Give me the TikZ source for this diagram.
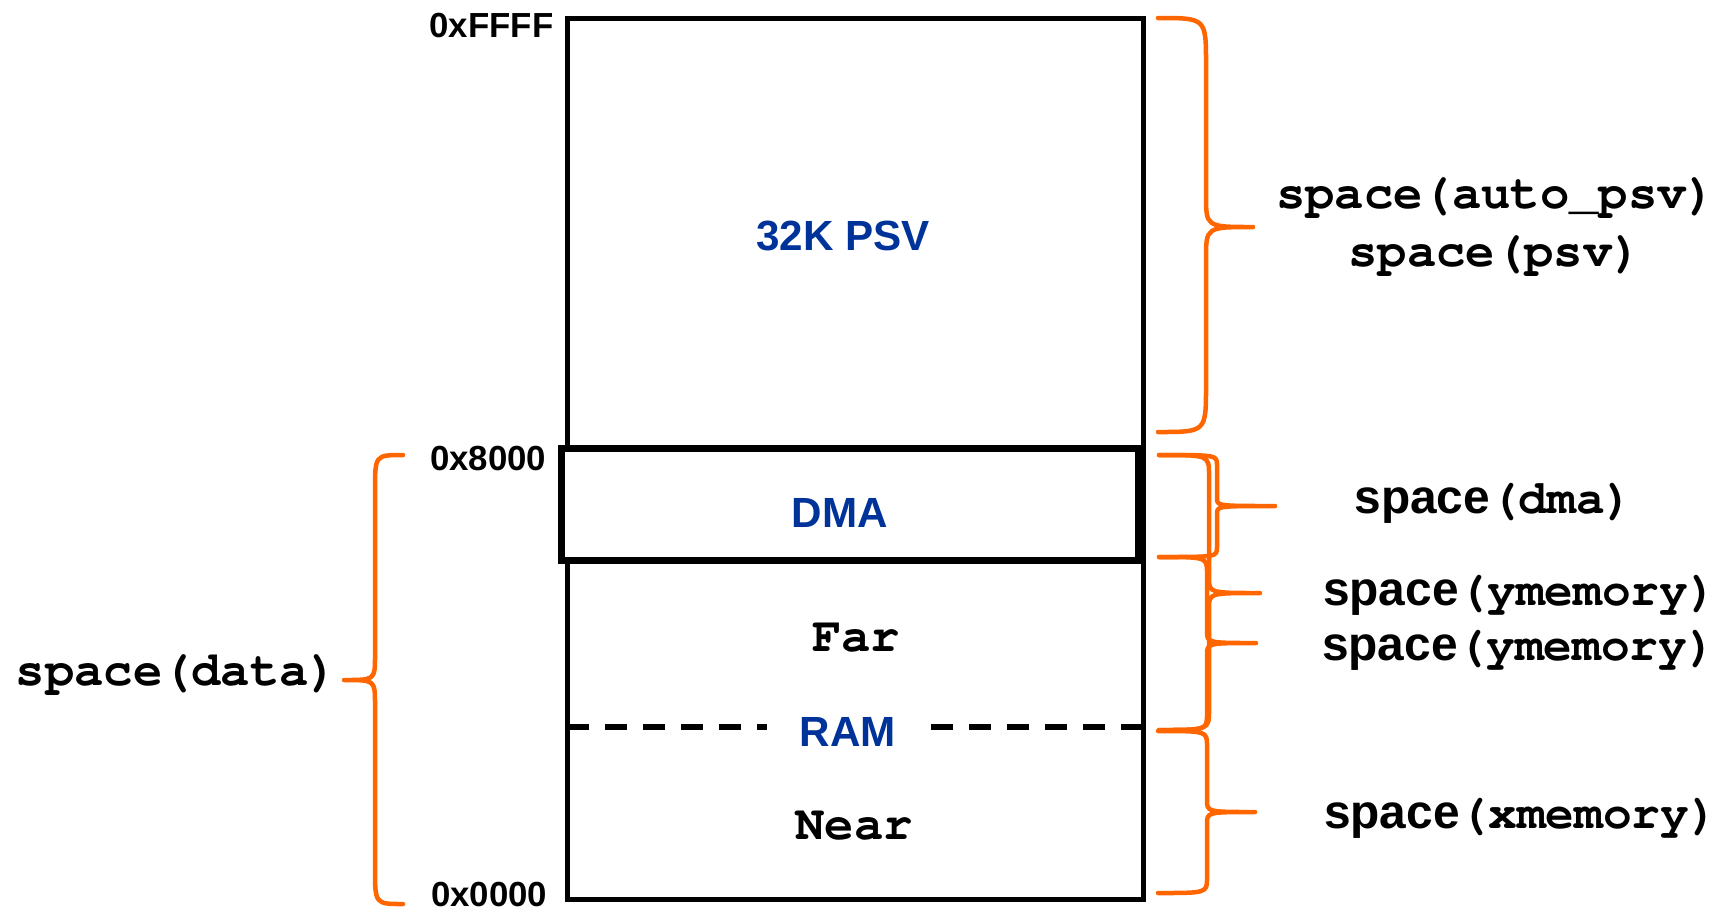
\documentclass[tikz,border=0pt]{standalone}
\usepackage{fontspec}
\usepackage{xcolor}
\usepackage{tikz}
\usetikzlibrary{positioning,calc}

\newfontfamily\arialf{Liberation Sans}
\newfontfamily\courf{texgyrecursor}[Extension=.otf, UprightFont=*-regular, BoldFont=*-bold]

\definecolor{memblue}{RGB}{0,51,153}
\definecolor{brcorange}{RGB}{255,102,0}

% brace: end x, spine x, tip x, top y, tip y, bottom y, end radius, tip radius
\newcommand{\membrace}[8]{%
  \draw[brc] (#1,#4) .. controls (#2,#4) .. (#2,#4+#7) -- (#2,#5-#8)
    .. controls (#2,#5) .. (#3,#5) .. controls (#2,#5) .. (#2,#5+#8)
    -- (#2,#6-#7) .. controls (#2,#6) .. (#1,#6);}

\begin{document}
\begin{tikzpicture}[
    x=0.01cm, y=-0.01cm,
    frame/.style={draw=black, line width=0.05cm},
    dmaframe/.style={draw=black, fill=white, line width=0.07cm},
    ramline/.style={line width=0.055cm, dash pattern=on 0.22cm off 0.16cm},
    brc/.style={draw=brcorange, line width=0.045cm, line cap=round, line join=round},
    hexlbl/.style={font=\arialf\bfseries\fontsize{9.9}{11}\selectfont, anchor=east, inner sep=0pt},
    regionlbl/.style={font=\arialf\bfseries\fontsize{12}{14}\selectfont, text=memblue, inner sep=0pt},
    courlbl/.style={font=\courf\bfseries\fontsize{13.9}{15}\selectfont, anchor=base, inner sep=0pt},
    spacelbl/.style={courlbl, font=\courf\bfseries\fontsize{13.6}{15}\selectfont}
]
    \useasboundingbox (0,0) rectangle (1719,911);

    % memory map
    \draw[frame] (567,18) rectangle (1143,899);
    \draw[dmaframe] (561,448) rectangle (1138,560);

    % regions
    \node[regionlbl] (psv) at (843,236) {32K PSV};
    \node[regionlbl] (dma) at (840,513) {DMA};
    \node[regionlbl] (ram) at (848,732) {RAM};
    \node[courlbl] (far) at (856,651) {Far};
    \node[courlbl] (near) at (854,839) {Near};

    % RAM split
    \coordinate (ramL) at (567,727);
    \coordinate (ramR) at (1143,727);
    \draw[ramline] (ramL) -- ([xshift=-0.32cm]ram.west |- ramL);
    \draw[ramline] (ramR) -- ([xshift=0.2cm]ram.east |- ramR);

    % addresses
    \node[hexlbl] (ffff) at (554,26) {0xFFFF};
    \node[hexlbl] (h8000) at (547,458) {0x8000};
    \node[hexlbl] (h0000) at (548,894) {0x0000};

    % braces
    \membrace{1158}{1206}{1253}{18}{227}{432}{46}{32}
    \membrace{1159}{1217}{1275}{455}{506}{557}{10}{8}
    \membrace{1159}{1209}{1260}{455}{593}{730}{20}{15}
    \membrace{1159}{1207}{1256}{557}{643}{730}{16}{12}
    \membrace{1158}{1207}{1255}{731}{812}{893}{15}{12}
    \membrace{403}{375}{344}{455}{680}{904}{36}{24}

    % section names
    \node[courlbl] (autopsv) at (1496,208) {space(auto\_psv)};
    \node[courlbl] (spsv) at (1495,266) {space(psv)};
    \node[spacelbl] (sdma) at (1494,513) {{\arialf space}(dma)};
    \node[spacelbl] (symem) at (1520,605) {{\arialf space}(ymemory)};
    \node[spacelbl] (symem2) at (1519,660) {{\arialf space}(ymemory)};
    \node[spacelbl] (sxmem) at (1521,828) {{\arialf space}(xmemory)};
    \node[courlbl] (sdata) at (177,685) {space(data)};

\end{tikzpicture}
\end{document}
